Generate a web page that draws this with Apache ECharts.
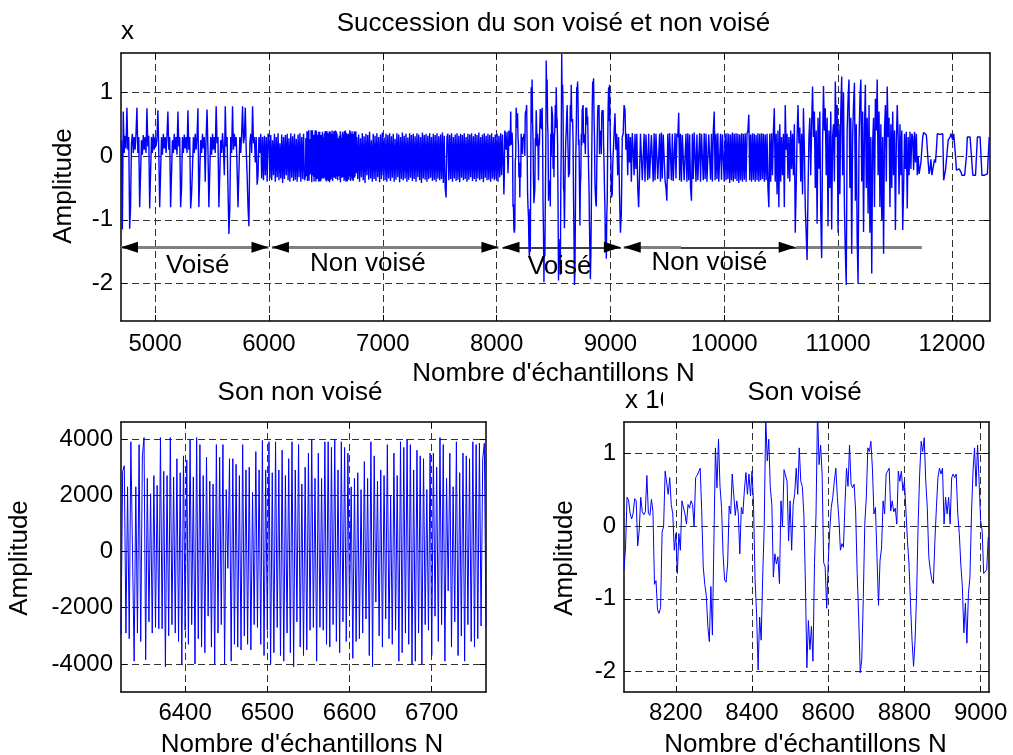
<!DOCTYPE html>
<html>
<head>
<meta charset="utf-8">
<script src="https://cdn.jsdelivr.net/npm/echarts@6/dist/echarts.min.js"></script>
<style>
html,body{margin:0;padding:0;background:#fff;}
#main{width:1013px;height:755px;}
</style>
</head>
<body>
<div id="main"></div>
<script>
// Speech signal amplitudes (x 10^4), read as segments of regularly spaced samples.
// Voiced part, samples 4704..5992, every 8th sample
const voiseA = [
0.25,-1.15,0.7,0.05,0.32,0.12,0.76,0.1,0.3,-1.14,
-0.8,0.2,0.35,0.05,0.3,0.1,0.35,0.76,0.05,0.3,
-0.8,-0.78,0.25,0.02,0.33,0.1,0.3,0.05,0.75,0.15,
0.32,-0.82,-0.8,0.3,0.05,0.35,0.1,0.3,0.15,0.28,
0.72,0.08,-0.8,-0.79,0.3,0.02,0.35,0.12,0.3,0.05,
0.32,0.7,0.1,0.3,-0.8,-0.78,0.25,0.05,0.35,0.1,
0.3,0.02,0.7,0.15,0.3,-0.8,-0.5,0.3,0.05,0.34,
0.12,0.3,0.05,0.72,0.1,0.3,-0.82,-0.6,-0.2,0.3,
0.05,0.35,0.1,0.3,0.75,-0.8,-0.78,0.25,0.05,0.35,
0.12,0.3,-0.4,0.3,0.73,0.1,-0.8,-0.79,0.3,0.02,
0.35,0.1,0.3,0.05,0.78,0.2,0.3,-0.8,-0.78,0.25,
0.05,0.36,0.1,-0.3,0.78,0.15,0.3,-0.5,-1.22,-0.8,
0.3,0.05,0.78,0.1,0.35,0.15,0.3,-0.2,-0.8,-0.78,
0.3,0.05,0.35,0.78,0.2,0.3,0.76,0.1,-0.3,-0.8,
-1.1,0.2,0.35,0.05,0.78,0.2,0.3,-0.1,0.3,-0.45,
-0.3,0.3,0.05,0.35,-0.35,0.3,-0.38,0.32,-0.3,0.3,
-0.4,0.35];

// Unvoiced part, samples 6000..6312, every 8th sample
const nonVoiseA = [
0.3,-0.35,0.33,-0.38,0.25,-0.3,0.35,-0.4,0.3,-0.33,
0.36,-0.38,0.2,-0.35,0.34,-0.42,0.3,-0.36,0.33,-0.3,
0.35,-0.38,0.28,-0.4,0.36,-0.34,0.31,-0.39,0.35,-0.37,
0.27,-0.4,0.34,-0.33,0.36,-0.4,0.3,-0.36,0.35,-0.38];

// Unvoiced detail, samples 6322..6766, every 2nd sample (raw amplitude)
const nonVoiseZoom = [
-2970,2850,3050,-2900,2300,-3100,3900,3850,-3900,2300,
-2900,3800,-3200,3400,4050,-3850,2600,-2500,2050,-2900,
2700,-2700,2350,-2750,4050,-2750,2850,-4100,2700,-3000,
4050,-2600,2650,-2900,3300,-3200,2800,-4000,3400,-2800,
3250,-3300,4000,-2600,2650,-4000,4050,-3100,3800,-3400,
2700,-3600,3350,-2300,2500,-3400,2400,-4000,3800,-2900,
3350,-2600,3800,-4000,2200,-600,3300,-3900,3300,-3300,
3100,-3400,2700,-3500,3800,-3000,2900,-3300,3000,-3500,
2100,-2600,3550,-2700,2900,-3300,3950,-3700,2900,-2800,
3900,-4000,2800,-3600,3900,-2700,2900,-3700,3600,-3900,
2700,-2900,3300,-3600,3900,-4100,2900,-2500,3800,-3400,
2400,-3700,3000,-3500,3500,-2800,4000,-2700,2600,-3900,
3500,-2700,2600,-2800,3900,-3300,3900,-3400,3700,-2600,
4000,-3200,2900,-3600,3900,-2500,3700,-3200,3500,-2100,
2300,-3800,2600,-3200,2800,-3100,2200,-2900,3200,-2400,
2600,-3700,3900,-4100,3400,-1800,2500,-3000,2900,-3400,
2700,-2400,3800,-3100,2000,-3300,3500,-2800,2700,-3900,
3900,-3600,3700,-2900,4000,-3300,3800,-4000,2900,-3900,
3600,-2900,3400,-4000,3300,-2600,2200,-2800,3500,-3700,
3500,-2300,3000,-3200,4050,-2600,3800,-3900,2600,-1400,
3500,-3400,2300,-2500,3900,-3700,2800,-3000,3500,-3900,
3400,-2600,3300,-3200,3900,-3400,3800,-3100,3850,-2650,
3300,3850,-2700];

// Unvoiced part, samples 6772..8060, every 8th sample
const nonVoiseB = [
0.3,-0.36,0.34,-0.4,0.28,-0.33,0.36,-0.38,0.31,-0.42,
0.35,-0.3,0.33,-0.37,0.38,-0.35,0.25,-0.4,0.35,-0.36,
0.32,-0.39,0.36,-0.33,0.3,-0.41,0.34,-0.36,0.37,-0.3,
0.29,-0.38,0.35,-0.4,0.33,-0.35,0.36,-0.39,0.31,-0.34,
0.35,-0.4,0.27,-0.37,0.36,-0.33,0.34,-0.41,0.3,-0.36,
0.37,-0.38,0.32,-0.35,0.35,-0.4,0.29,-0.37,0.36,-0.34,
0.33,-0.39,0.35,-0.36,0.31,-0.4,0.36,-0.33,0.34,-0.38,
0.3,-0.42,0.37,-0.35,0.33,-0.37,0.35,-0.4,0.32,-0.36,
0.36,-0.34,0.3,-0.39,0.35,-0.37,0.33,-0.4,0.36,-0.35,
0.31,-0.38,0.34,-0.36,0.37,-0.42,0.32,-0.5,-0.65,0.3,
0.35,-0.38,0.33,-0.36,0.36,-0.4,0.3,-0.35,0.34,-0.39,
0.36,-0.37,0.32,-0.41,0.35,-0.34,0.33,-0.38,0.36,-0.36,
0.3,-0.4,0.35,-0.37,0.34,-0.33,0.36,-0.39,0.31,-0.36,
0.35,-0.4,0.33,-0.35,0.37,-0.38,0.3,-0.36,0.34,-0.41,
0.36,-0.34,0.32,-0.38,0.35,-0.37,0.33,-0.4,0.36,-0.35,
0.3,-0.38,0.34,-0.36,0.35,-0.4,0.32,-0.33,0.36,-0.3,
0.34,-0.2];

// Voiced detail, samples 8064..9020, every 4th sample
const voiseZoom = [
-0.6,-0.3,0.4,0.36,0.18,0.1,0.18,0.38,0.35,-0.27,
-0.05,0.4,0.2,0.16,0.2,0.7,0.18,0.15,0.37,0.2,
-0.8,-0.75,-1.15,-1.2,-1.12,-0.08,0.0,0.76,0.78,0.44,
0.67,0.3,0.17,-0.33,-0.1,-0.65,-0.1,-0.33,0.35,0.35,
0.17,0.03,0.3,0.25,0.35,0.3,0.0,0.67,0.7,0.72,
0.8,0.2,-0.56,-0.8,-0.95,-1.38,-1.59,-0.83,-1.5,-0.2,
1.08,0.53,1.2,0.55,0.26,-0.38,-0.74,-0.77,-0.52,0.28,
0.17,0.72,0.72,0.15,0.35,0.17,-0.38,0.26,0.17,0.5,
0.74,0.44,0.72,0.42,0.76,0.3,-0.74,-1.2,-1.98,-1.25,
-1.57,-0.7,0.0,1.5,0.9,1.2,0.53,0.3,-0.7,-0.38,
-0.52,-0.42,-0.79,0.35,0.0,0.78,0.76,0.62,-0.2,0.35,
-0.33,0.3,0.45,0.8,0.44,1.08,0.62,0.55,0.17,-0.74,
-1.95,-1.3,-1.7,-1.38,-1.86,-0.5,0.17,1.6,0.85,1.12,
0.72,-0.5,-0.56,-1.13,-0.5,-0.06,0.26,0.4,0.62,0.8,
0.4,0.1,-0.33,-0.24,-0.29,0.3,0.8,0.55,1.12,0.58,
0.53,0.58,0.21,-0.65,-1.25,-2.02,-1.84,-1.0,0.03,0.4,
1.08,1.03,1.17,0.8,0.17,0.26,-0.42,-1.09,-0.47,-0.3,
0.35,0.17,0.72,0.76,0.8,0.21,0.35,0.2,0.25,0.03,
0.76,0.62,0.76,0.49,0.62,0.21,-0.2,-0.52,-1.06,-1.57,
-1.93,-1.57,-0.94,0.03,0.72,1.17,1.03,1.22,0.62,0.26,
-0.42,-0.61,-0.74,-0.79,-0.2,0.26,0.67,0.8,0.72,0.8,
0.03,0.4,0.17,0.4,0.03,0.67,0.72,0.67,0.72,0.17,
-0.1,-0.52,-0.83,-1.47,-1.06,-1.61,-0.93,-0.7,0.17,0.76,
1.08,0.55,1.12,0.62,0.08,-0.06,-0.65,-0.65,-0.6,-0.15];

// Transition, samples 9024..10496, every 8th sample
const transition = [
-0.15,0.35,0.67,0.1,0.35,-0.3,0.3,-0.6,-1.2,-0.9,
0.3,0.35,0.8,0.73,0.1,0.35,-0.3,0.35,-0.1,0.3,
-0.4,0.36,0.1,-0.3,0.35,-0.2,0.35,-0.5,-0.8,-0.3,
0.35,0.36,-0.38,-0.36,0.35,-0.4,0.34,0.36,-0.38,0.35,
-0.35,-0.37,0.33,0.35,-0.4,0.36,-0.38,0.35,0.34,-0.36,
-0.38,0.35,-0.4,0.37,-0.35,0.34,0.35,-0.38,-0.5,-0.7,
0.35,-0.36,0.36,0.34,-0.38,0.35,-0.39,-0.37,0.36,-0.35,
0.35,0.3,0.68,-0.38,0.35,-0.4,0.33,0.36,-0.38,-0.35,
0.35,-0.4,0.36,-0.38,0.34,-0.5,-0.7,0.35,-0.36,0.37,
0.35,-0.4,0.34,-0.38,-0.36,0.36,-0.4,0.35,0.33,-0.38,
0.36,-0.36,0.35,-0.4,-0.38,0.34,0.36,-0.37,0.35,-0.4,
0.4,0.7,-0.38,0.35,-0.36,0.36,-0.4,-0.38,0.35,-0.37,
0.34,0.36,-0.4,0.35,-0.38,0.36,-0.36,0.35,-0.42,0.34,
-0.38,0.37,-0.4,0.35,-0.36,0.36,-0.39,0.35,-0.42,0.34,
-0.38,0.36,-0.4,0.35,-0.37,0.36,-0.4,0.35,0.4,0.65,
-0.38,0.34,-0.4,0.36,-0.37,0.35,-0.4,0.33,-0.38,0.36,
-0.4,0.35,-0.38,0.36,-0.36,0.35,-0.4,0.34,-0.38,0.35,
-0.5,-0.8,0.35,-0.4,0.36,-0.3,0.4,0.75,-0.4,0.35,
-0.6,0.4,-0.8,0.5,-0.4];

// Voiced part, samples 10504..11696, every 8th sample
const voiseC = [
0.3,-0.3,0.35,-0.8,0.8,0.1,0.35,-0.35,0.3,-0.4,
0.4,-0.2,0.35,-0.3,0.5,-1.2,-0.5,0.3,0.8,0.2,
0.45,-0.4,0.35,-0.6,0.75,0.1,-0.8,-1.2,-1.63,-0.6,
0.3,0.6,-0.3,0.5,1.09,0.3,0.7,-0.5,0.4,-1.06,
0.6,-0.2,0.7,-0.9,-1.6,0.2,1.1,0.4,0.75,-0.3,
0.6,-1.1,0.4,-0.5,0.7,-1.15,0.3,0.5,-0.4,1.17,
0.3,0.8,-1.2,0.5,-0.6,0.7,1.25,-0.3,1.0,-0.8,
-1.5,-2.02,0.4,0.9,1.2,-0.5,0.6,-1.53,0.3,0.8,
1.15,-0.7,0.5,-1.3,-2.0,0.2,0.9,1.2,-0.4,0.7,
-1.19,0.4,1.12,-0.5,0.6,-0.9,0.8,-1.2,0.3,-1.84,
0.2,0.6,-0.8,0.9,0.4,1.2,-0.3,0.7,-0.8,0.5,
-1.0,0.3,-1.53,0.4,0.8,-0.4,1.09,0.3,0.6,-0.8,
0.5,-0.5,0.7,-0.3,0.4,-1.16,0.2,0.8,0.3,-0.6,
0.5,-0.3,0.4,-1.16,-0.5,0.35,-0.2,0.38,-0.82,0.3,
-0.3,0.38,-0.2,0.35,0.3,-0.22,0.38,-0.1,0.35,-0.3];

// Final low-level part, samples 11704..12328, every 8th sample
const queue = [
0.0,-0.28,-0.28,-0.1,0.1,0.3,0.37,0.35,0.35,0.33,
0.35,-0.1,-0.28,-0.2,-0.05,-0.3,-0.33,-0.33,-0.05,-0.1,
0.1,0.35,0.35,0.33,0.34,0.32,0.34,0.35,-0.38,-0.3,
-0.22,-0.2,0.1,0.25,0.25,0.3,0.35,0.3,0.25,0.35,
0.35,0.0,-0.22,-0.22,-0.2,-0.2,-0.2,-0.25,-0.3,-0.3,
-0.3,-0.3,-0.3,0.0,0.3,0.3,0.3,0.3,0.3,0.3,
-0.3,-0.3,-0.3,-0.3,-0.3,0.3,0.3,0.3,0.3,0.3,
-0.3,-0.3,-0.3,-0.3,-0.3,-0.28,-0.28,-0.28,0.3];

// Segment layout: first sample number, sample spacing, unit factor to 10^4
const segmentStart = [4704, 6000, 6322, 6772, 8064, 9024, 10504, 11704];
const segmentStep  = [8, 8, 2, 8, 4, 8, 8, 8];
const segmentUnit  = [1, 1, 1e-4, 1, 1, 1, 1, 1];
const segmentValues = [voiseA, nonVoiseA, nonVoiseZoom, nonVoiseB, voiseZoom, transition, voiseC, queue];

// Axis ranges and tick values
const topXRange = [4700, 12335], topYRange = [-2.586, 1.617];
const blXRange = [6322, 6766], blYRange = [-4996, 4604];
const brXRange = [8064, 9022], brYRange = [-2.284, 1.437];
const topXTicks = [5000, 6000, 7000, 8000, 9000, 10000, 11000, 12000];
const topYTicks = [-2, -1, 0, 1];
const blXTicks = [6400, 6500, 6600, 6700];
const blYTicks = [-4000, -2000, 0, 2000, 4000];
const brXTicks = [8200, 8400, 8600, 8800, 9000];
const brYTicks = [-2, -1, 0, 1];

// Annotation: voiced / unvoiced stretches
const arrowLevel = -1.43;
const arrowSpans = [[4700, 5996], [6026, 8016], [8052, 9092], [9117, 10628]];
const grayShafts = [[4700, 5996], [6026, 8016], [9117, 9620], [10628, 11736]];
const blackShafts = [[8052, 9092], [9620, 10628]];
const segLabels = ['Voisé', 'Non voisé', 'Voisé', 'Non voisé'];
const segLabelX = [5374, 6869, 8553, 9869];
const segLabelY = [-1.72, -1.69, -1.74, -1.68];

// ---- build series data ----
const topData = [];
segmentValues.forEach((vals, s) => {
  vals.forEach((v, i) => topData.push([segmentStart[s] + i * segmentStep[s], v * segmentUnit[s]]));
});
const blData = nonVoiseZoom.map((v, i) => [segmentStart[2] + i * segmentStep[2], v]);
const brData = voiseZoom.map((v, i) => [segmentStart[4] + i * segmentStep[4], v]);

const FONT = '"Liberation Sans", Arial, Helvetica, sans-serif';
const TICK_FS = 24;   // tick labels
const TEXT_FS = 26;   // titles, axis names, annotations

function xAxes(grid, range, ticks, margin) {
  const line = {show: true, onZero: false, lineStyle: {color: '#000', width: 1.5}};
  return [
    {type: 'value', gridIndex: grid, position: 'bottom', min: range[0], max: range[1],
     axisLine: line,
     axisTick: {show: true, inside: true, length: 6, customValues: ticks, lineStyle: {color: '#000'}},
     axisLabel: {show: true, customValues: ticks, margin: margin, formatter: v => String(v),
                 fontSize: TICK_FS, fontFamily: FONT, color: '#000'},
     splitLine: {show: true, lineStyle: {type: [7, 4], color: '#333', width: 1}}},
    {type: 'value', gridIndex: grid, position: 'top', min: range[0], max: range[1],
     axisLine: line,
     axisTick: {show: true, inside: true, length: 6, customValues: ticks, lineStyle: {color: '#000'}},
     axisLabel: {show: false}, splitLine: {show: false}}
  ];
}
function yAxes(grid, range, ticks) {
  const line = {show: true, onZero: false, lineStyle: {color: '#000', width: 1.5}};
  return [
    {type: 'value', gridIndex: grid, position: 'left', min: range[0], max: range[1],
     axisLine: line,
     axisTick: {show: true, inside: true, length: 6, customValues: ticks, lineStyle: {color: '#000'}},
     axisLabel: {show: true, customValues: ticks, margin: 8, formatter: v => String(v),
                 fontSize: TICK_FS, fontFamily: FONT, color: '#000'},
     splitLine: {show: true, lineStyle: {type: [7, 4], color: '#333', width: 1}}},
    {type: 'value', gridIndex: grid, position: 'right', min: range[0], max: range[1],
     axisLine: line,
     axisTick: {show: true, inside: true, length: 6, customValues: ticks, lineStyle: {color: '#000'}},
     axisLabel: {show: false}, splitLine: {show: false}}
  ];
}

function txt(text, x, y, align, rot) {
  return {type: 'text', x: x, y: y, rotation: rot || 0, z: 20, silent: true,
    style: {text: text, font: TEXT_FS + 'px ' + FONT, fill: '#000',
            textAlign: align || 'center', textVerticalAlign: 'middle',
            align: align || 'center', verticalAlign: 'middle'}};
}

const shaftLines = [];
grayShafts.forEach(s => shaftLines.push([
  {coord: [s[0], arrowLevel], lineStyle: {color: '#808080', width: 3, type: 'solid'}},
  {coord: [s[1], arrowLevel]}]));
blackShafts.forEach(s => shaftLines.push([
  {coord: [s[0], arrowLevel], lineStyle: {color: '#000', width: 1.5, type: 'solid'}},
  {coord: [s[1], arrowLevel]}]));

const heads = [];
arrowSpans.forEach(s => {
  heads.push({value: [s[0], arrowLevel], symbolRotate: 90, symbolOffset: [8.5, 0]});
  heads.push({value: [s[1], arrowLevel], symbolRotate: -90, symbolOffset: [-8.5, 0]});
});

const option = {
  animation: false,
  backgroundColor: '#fff',
  grid: [
    {left: 121, top: 53, width: 869, height: 268, containLabel: false, outerBoundsMode: 'none'},
    {left: 121, top: 422, width: 365, height: 270, containLabel: false, outerBoundsMode: 'none'},
    {left: 624, top: 422, width: 365, height: 270, containLabel: false, outerBoundsMode: 'none'}
  ],
  xAxis: [].concat(xAxes(0, topXRange, topXTicks, 11), xAxes(1, blXRange, blXTicks, 9), xAxes(2, brXRange, brXTicks, 9)),
  yAxis: [].concat(yAxes(0, topYRange, topYTicks), yAxes(1, blYRange, blYTicks), yAxes(2, brYRange, brYTicks)),
  series: [
    {type: 'line', name: 'signal', xAxisIndex: 0, yAxisIndex: 0, data: topData,
     showSymbol: false, symbol: 'none', silent: true, clip: true, z: 3,
     lineStyle: {color: '#0000ff', width: 1.4},
     markLine: {silent: true, symbol: ['none', 'none'], label: {show: false}, z: 2,
                animation: false, data: shaftLines}},
    {type: 'scatter', name: 'heads', xAxisIndex: 0, yAxisIndex: 0, data: heads,
     symbol: 'triangle', symbolSize: [11, 17], silent: true, z: 6,
     itemStyle: {color: '#000', opacity: 1}},
    {type: 'scatter', name: 'labels', xAxisIndex: 0, yAxisIndex: 0, z: 7, silent: true,
     data: segLabels.map((t, i) => ({name: t, value: [segLabelX[i], segLabelY[i]]})),
     symbolSize: 1, itemStyle: {color: 'rgba(0,0,0,0)', opacity: 1},
     label: {show: true, position: 'inside', formatter: p => p.name, opacity: 1,
             fontSize: TEXT_FS, fontFamily: FONT, color: '#000', textBorderWidth: 0}},
    {type: 'line', name: 'nonvoise', xAxisIndex: 2, yAxisIndex: 2, data: blData,
     showSymbol: false, symbol: 'none', silent: true, clip: true,
     lineStyle: {color: '#0000ff', width: 1}},
    {type: 'line', name: 'voise', xAxisIndex: 4, yAxisIndex: 4, data: brData,
     showSymbol: false, symbol: 'none', silent: true, clip: true,
     lineStyle: {color: '#0000ff', width: 1}}
  ],
  graphic: [
    txt('Succession du son voisé et non voisé', 553.5, 24),
    txt('x', 121, 32, 'left'),
    txt("Nombre d'échantillons N", 553.5, 374),
    txt('Amplitude', 63.5, 186, 'center', Math.PI / 2),
    txt('Son non voisé', 300, 393),
    txt("Nombre d'échantillons N", 302, 745),
    txt('Amplitude', 20, 558, 'center', Math.PI / 2),
    txt('Son voisé', 804.5, 393),
    txt('x 10', 625, 401, 'left'),
    {type: 'rect', z: 21, silent: true, shape: {x: 663, y: 384, width: 30, height: 28},
     style: {fill: '#fff'}},
    txt("Nombre d'échantillons N", 805.5, 745),
    txt('Amplitude', 565, 558, 'center', Math.PI / 2)
  ]
};

const chart = echarts.init(document.getElementById('main'), null, {renderer: 'canvas'});
chart.setOption(option);
</script>
</body>
</html>
